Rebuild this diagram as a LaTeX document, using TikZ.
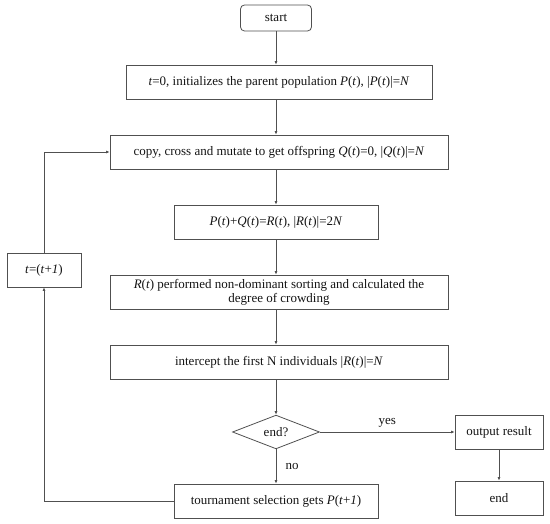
\documentclass[tikz,border=0pt]{standalone}
\usepackage{fontspec}
\setmainfont{Liberation Serif}
\usetikzlibrary{
  shapes.geometric,
  arrows.meta,
  positioning
}
\definecolor{linecolor}{RGB}{80, 80, 80}
\definecolor{textcolor}{RGB}{20, 20, 20}
\tikzset{
blocktext/.style={
  align=center,
  font=\fontsize{13}{14}\selectfont,
  text=textcolor
},
block/.style={
  draw=linecolor,
  line width=0.8pt,
  inner sep=1pt,
  minimum height=34pt,
  blocktext
},
startblock/.style={
  block,
  rounded corners=4pt,
  minimum height=26pt,
  minimum width=71pt
},
decision/.style={
  draw=linecolor,
  line width=0.8pt,
  diamond,
  inner sep=0pt,
  minimum width=87pt,
  minimum height=33pt,
  blocktext
},
edgelabel/.style={
  blocktext
},
arrow/.style={
  -{Latex[length=3.5pt,width=3pt]},
  line width=0.8pt,
  draw=linecolor
}
}

\begin{document}
\begin{tikzpicture}[x=1pt, y=-1pt]
  \useasboundingbox (0,0) rectangle (550,524);
  \node[startblock] (start) at (276,18) {start};
  \node[block, minimum width=306pt] (init) at (279,82)
    {\textit{t}=0, initializes the parent population \textit{P}(\textit{t}), |\textit{P}(\textit{t})|=\textit{N}};
  \node[block, minimum width=338pt] (copy) at (279,152)
    {copy, cross and mutate to get offspring \textit{Q}(\textit{t})=0, |\textit{Q}(\textit{t})|=\textit{N}};
  \node[block, minimum width=204pt] (merge) at (276,222)
    {\textit{P}(\textit{t})+\textit{Q}(\textit{t})=\textit{R}(\textit{t}), |\textit{R}(\textit{t})|=2\textit{N}};
  \node[block, minimum width=338pt] (sort) at (279,292)
    {\textit{R}(\textit{t}) performed non-dominant sorting and calculated the\\degree of crowding};
  \node[block, minimum width=338pt] (cut) at (279,362)
    {intercept the first N individuals |\textit{R}(\textit{t})|=\textit{N}};
  \node[decision] (decide) at (276,432) {end?};
  \node[block, minimum width=204pt] (select) at (276,501)
    {tournament selection gets \textit{P}(\textit{t}+\textit{1})};
  \node[block, minimum width=74pt] (inc) at (44,270)
    {\textit{t}=(\textit{t}+\textit{1})};
  \node[block, minimum width=88pt] (output) at (499,432) {output result};
  \node[block, minimum width=88pt] (end) at (499,498) {end};

  \draw[arrow] (start.south) -- (start.south |- init.north);
  \draw[arrow] (start.south |- init.south) -- (start.south |- copy.north);
  \draw[arrow] (start.south |- copy.south) -- (merge.north);
  \draw[arrow] (merge.south) -- (start.south |- sort.north);
  \draw[arrow] (start.south |- sort.south) -- (start.south |- cut.north);
  \draw[arrow] (start.south |- cut.south) -- (decide.north);
  \draw[arrow] (decide.east) -- node[edgelabel, above=1pt] {yes} (output.west);
  \draw[arrow] (decide.south) -- node[edgelabel, right=6pt] {no} (select.north);
  \draw[arrow] (output.south) -- (end.north);
  \draw[arrow] (select.west) -| (inc.south);
  \draw[arrow] (inc.north) |- (copy.west);
\end{tikzpicture}
\end{document}
